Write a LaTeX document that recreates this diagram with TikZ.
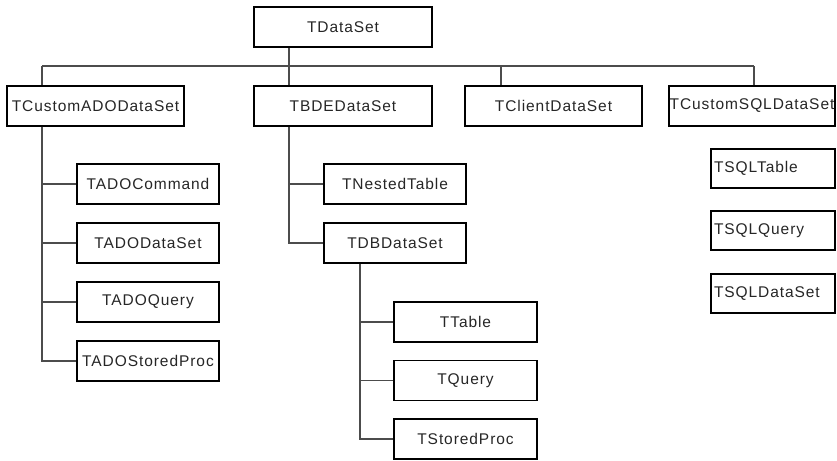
\documentclass[tikz,border=0pt]{standalone}
\usepackage{fontspec}
\setmainfont{Liberation Sans}
\newfontfamily\classfont[LetterSpace=6]{Liberation Sans}

\tikzset{
  cls/.style={draw, line width=1.5pt, minimum height=40pt, inner sep=0pt,
    text=black!85, font=\classfont\fontsize{15.5}{18}\selectfont},
  sqlcls/.style={cls, minimum height=39pt, text width=118pt, align=left, inner xsep=3pt},
  link/.style={draw=black!70, line width=1.1pt},
}

\begin{document}
\begin{tikzpicture}[x=1pt,y=-1pt]
\useasboundingbox (0,0) rectangle (837,460);
% root and first level
  \node[cls, minimum width=178pt] (tds)     at (343,27)    {TDataSet};
  \node[cls, minimum width=177pt] (tcado)   at (95.5,106)  {TCustomADODataSet};
  \node[cls, minimum width=178pt] (tbde)    at (343,106)   {TBDEDataSet};
  \node[cls, minimum width=177pt] (tclient) at (553.5,106) {TClientDataSet};
  \node[cls, minimum width=166pt] (tcsql)   at (752,106)   {TCustomSQLDataSet};

% ADO branch
  \node[cls, minimum width=142pt] (tadocmd) at (148,184) {TADOCommand};
  \node[cls, minimum width=142pt] (tadods)  at (148,243) {TADODataSet};
  \node[cls, minimum width=142pt] (tadoq)   at (148,302) {TADOQuery};
  \node[cls, minimum width=142pt] (tadosp)  at (148,361) {TADOStoredProc};

% BDE branch
  \node[cls, minimum width=142pt] (tnest) at (395,184) {TNestedTable};
  \node[cls, minimum width=142pt] (tdb)   at (395,243) {TDBDataSet};
  \node[cls, minimum width=143pt] (ttable) at (465.5,322)   {TTable};
  \node[cls, minimum width=143pt] (tquery) at (465.5,380.5) {TQuery};
  \node[cls, minimum width=143pt] (tsp)    at (465.5,439)   {TStoredProc};

% SQL classes
  \node[sqlcls] (tsqlt) at (773,168.5) {TSQLTable};
  \node[sqlcls] (tsqlq) at (773,230.5) {TSQLQuery};
  \node[sqlcls] (tsqld) at (773,293.5) {TSQLDataSet};

% trunk positions
  \coordinate (bus)     at (0,66);
  \coordinate (adoX)    at (42,0);
  \coordinate (bdeX)    at (289,0);
  \coordinate (clientX) at (501,0);
  \coordinate (sqlX)    at (754,0);
  \coordinate (dbX)     at (360,0);

% define the links
  \draw[link] (adoX |- bus) -- (sqlX |- bus);
  \draw[link] (tds.south -| bdeX) -- (tbde.north -| bdeX);
  \draw[link] (adoX |- bus) -- (tcado.north -| adoX);
  \draw[link] (clientX |- bus) -- (tclient.north -| clientX);
  \draw[link] (sqlX |- bus) -- (tcsql.north -| sqlX);
  \foreach \n in {tadocmd,tadods,tadoq,tadosp}
    \draw[link] (tcado.south -| adoX) |- (\n.west);
  \foreach \n in {tnest,tdb}
    \draw[link] (tbde.south -| bdeX) |- (\n.west);
  \foreach \n in {ttable,tquery,tsp}
    \draw[link] (tdb.south -| dbX) |- (\n.west);
\end{tikzpicture}
\end{document}
